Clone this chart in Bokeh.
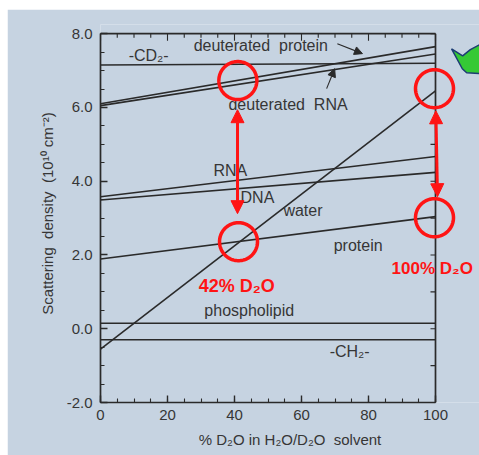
import numpy as np
from bokeh.plotting import figure
from bokeh.models import (Range1d, FixedTicker, Label, Arrow, NormalHead,
                          PolyAnnotation, Spacer, PrintfTickFormatter)
from bokeh.layouts import column, row
from bokeh.embed import file_html
from bokeh.resources import INLINE

# ---------------- data ----------------
d2o_percent = [0, 100]
cd2 = [7.15, 7.20]
deut_protein = [6.10, 7.65]
deut_rna = [6.05, 7.45]
rna = [3.58, 4.67]
dna = [3.49, 4.24]
water = [-0.55, 6.45]
protein = [1.89, 3.04]
phospholipid = [0.15, 0.15]
ch2 = [-0.30, -0.30]
series = [cd2, deut_protein, deut_rna, rna, dna, water, protein, phospholipid, ch2]

x_ticks = [0, 20, 40, 60, 80, 100]
x_minor = list(range(0, 101, 5))
y_ticks = [-2, 0, 2, 4, 6, 8]
y_minor = [v / 2 for v in range(-4, 17)]
y_right_ticks = list(range(-2, 9))

# highlighted match points (red circles)
match_x = [41, 99.7, 41.2, 99.7]
match_y = [6.73, 6.51, 2.36, 3.01]

BG = "#c6d3e1"
DARK = "#2a2a2a"
TXT = "#363636"
RED = "#ff1414"
FONT = "Liberation Sans"

X_MAX = 100 * 379 / 335   # frame extends to right page edge
Y_MAX = 8.25

p = figure(width=472, height=446, x_range=Range1d(0, X_MAX), y_range=Range1d(-2, Y_MAX),
           output_backend="svg", toolbar_location=None,
           min_border_left=93, min_border_right=0, min_border_top=15, min_border_bottom=53,
           background_fill_color=BG, border_fill_color=BG, outline_line_color=None)
p.xgrid.visible = False
p.ygrid.visible = False

px_x = 335 / 100      # pixels per x unit
px_y = 378 / (Y_MAX + 2)  # pixels per y unit

for s in series:
    p.line(d2o_percent, s, line_color=DARK, line_width=1.6)

def style_axis(ax, ticks, minor):
    ax.ticker = FixedTicker(ticks=ticks, minor_ticks=minor)
    ax.axis_line_color = DARK
    ax.axis_line_width = 1.7
    ax.major_tick_line_color = DARK
    ax.minor_tick_line_color = DARK
    ax.major_tick_line_width = 1.4
    ax.minor_tick_line_width = 1.1
    ax.major_tick_in = 7
    ax.major_tick_out = 0
    ax.minor_tick_in = 4
    ax.minor_tick_out = 0
    ax.major_label_text_font = FONT
    ax.major_label_text_font_size = "15px"
    ax.major_label_text_color = TXT
    ax.axis_label_text_font = FONT
    ax.axis_label_text_font_size = "15px"
    ax.axis_label_text_font_style = "normal"
    ax.axis_label_text_color = TXT

xa = p.xaxis[0]
ya = p.yaxis[0]
style_axis(xa, x_ticks, x_minor)
style_axis(ya, y_ticks, y_minor)
xa.bounds = (0, 100)
ya.bounds = (-2, 8)
ya.formatter = PrintfTickFormatter(format="%.1f")
xa.major_label_standoff = 7
ya.major_label_standoff = 8
xa.axis_label = "% D\u2082O in H\u2082O/D\u2082O\u00a0\u00a0solvent"
ya.axis_label = "Scattering\u00a0\u00a0density\u00a0\u00a0(10\u00b9\u2070 cm\u207b\u00b2)"
xa.axis_label_standoff = 8
ya.axis_label_standoff = 8

# top and right frame edges with inward ticks
p.segment(x0=[0, 100], y0=[8, -2], x1=[100, 100], y1=[8, 8], line_color=DARK, line_width=1.7)
top_len = [7 if t in x_ticks else 4 for t in x_minor]
p.segment(x0=x_minor, y0=[8] * len(x_minor), x1=x_minor,
          y1=[8 - L / px_y for L in top_len], line_color=DARK, line_width=1.1)
p.segment(x0=[100] * len(y_right_ticks), y0=y_right_ticks,
          x1=[100 - 5 / px_x] * len(y_right_ticks), y1=y_right_ticks,
          line_color=DARK, line_width=1.1)

# ---------------- curve labels ----------------
labels = [
    ("-CD\u2082-", 8.4, 7.40),
    ("deuterated\u00a0\u00a0protein", 27.8, 7.67),
    ("deuterated\u00a0\u00a0RNA", 38.2, 6.08),
    ("RNA", 33.7, 4.29),
    ("DNA", 41.8, 3.56),
    ("water", 54.6, 3.20),
    ("protein", 69.6, 2.25),
    ("phospholipid", 31.0, 0.49),
    ("-CH\u2082-", 68.4, -0.62),
]
for t, lx, ly in labels:
    p.add_layout(Label(x=lx, y=ly, text=t, text_font=FONT, text_font_size="16px",
                       text_color=TXT, text_baseline="middle", text_align="left"))

# pointer arrows
p.add_layout(Arrow(end=NormalHead(size=8, fill_color=DARK, line_color=DARK),
                   x_start=70.7, y_start=7.73, x_end=78.2, y_end=7.46,
                   line_color=DARK, line_width=1.1))
p.add_layout(Arrow(end=NormalHead(size=8, fill_color=DARK, line_color=DARK),
                   x_start=67.5, y_start=6.51, x_end=69.9, y_end=7.05,
                   line_color=DARK, line_width=1.1))

# ---------------- red annotations ----------------
theta = np.linspace(0, 2 * np.pi, 91)
for cx, cy in zip(match_x, match_y):
    p.add_layout(PolyAnnotation(xs=list(cx + 19 / px_x * np.cos(theta)),
                                ys=list(cy + 19 / px_y * np.sin(theta)),
                                fill_alpha=0, line_color=RED, line_alpha=1, line_width=3.5))

def red_arrow(x0, y0, x1, y1):
    p.add_layout(Arrow(start=NormalHead(size=13, fill_color=RED, line_color=RED),
                       end=NormalHead(size=13, fill_color=RED, line_color=RED),
                       x_start=x0, y_start=y0, x_end=x1, y_end=y1,
                       line_color=RED, line_width=3))

red_arrow(40.9, 5.94, 40.9, 3.12)
red_arrow(100.1, 5.91, 100.6, 3.58)

p.add_layout(Label(x=29.3, y=1.17, text="42% D\u2082O", text_font=FONT, text_font_size="18px",
                   text_font_style="bold", text_color=RED, text_baseline="middle"))
p.add_layout(Label(x=86.9, y=1.63, text="100% D\u2082O", text_font=FONT, text_font_size="17px",
                   text_font_style="bold", text_color=RED, text_baseline="middle"))

# green callout tail (partially off page)
p.add_layout(PolyAnnotation(xs=[104.8, 108.1, 110.4, 113.1, 118, 118, 113.1, 109.3, 108.0],
                            ys=[7.59, 7.40, 7.57, 7.70, 7.75, 6.90, 6.92, 6.94, 7.05],
                            fill_color="#35c935", fill_alpha=1, line_alpha=1,
                            line_color="#1d3c74", line_width=1.5))

layout = column(Spacer(width=479, height=9),
                row(Spacer(width=7, height=446), p))
open("out.html", "w").write(file_html(layout, INLINE))
